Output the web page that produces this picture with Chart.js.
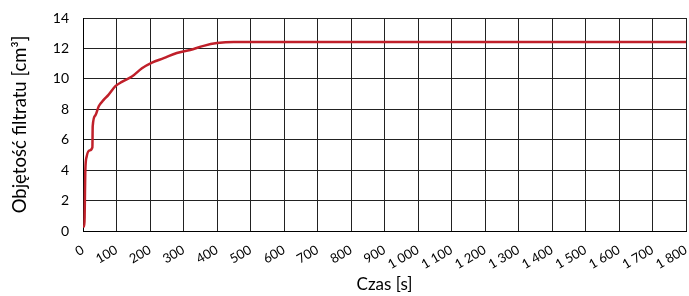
<!DOCTYPE html>
<html>
<head>
<meta charset="utf-8">
<script src="https://cdn.jsdelivr.net/npm/chart.js@4"></script>
<style>
  html, body { margin: 0; padding: 0; background: #fff; }
  #wrap { width: 689px; height: 296px; }
</style>
</head>
<body>
<div id="wrap"><canvas id="myChart" width="689" height="296"></canvas></div>
<script>
// time [s] and filtrate volume [cm3]
var czas = [0, 4, 7, 11, 20, 28, 29, 37, 47, 61, 76, 96, 116, 146, 176, 206, 241, 280, 320, 360, 400, 450, 500, 600, 700, 800, 900, 1000, 1100, 1200, 1300, 1400, 1500, 1600, 1700, 1800];
var objetosc = [0.3, 0.3, 4.0, 4.9, 5.3, 5.5, 6.9, 7.6, 8.2, 8.6, 8.95, 9.5, 9.8, 10.15, 10.7, 11.07, 11.36, 11.7, 11.9, 12.17, 12.35, 12.43, 12.43, 12.43, 12.43, 12.42, 12.42, 12.42, 12.42, 12.42, 12.42, 12.42, 12.42, 12.42, 12.42, 12.42];
var yTicks = [0, 2, 4, 6, 8, 10, 12, 14];

var font = "Lato, 'Liberation Sans', sans-serif";

var points = czas.map(function (t, i) {
    return { x: t, y: objetosc[i] };
});

var ctx = document.getElementById("myChart");
var myChart = new Chart(ctx, {
    type: 'line',
    data: {
        datasets: [{
            data: points,
            borderColor: "#C0202A",
            borderWidth: 2.5,
            pointRadius: 0,
            cubicInterpolationMode: 'monotone',
            fill: false
        }]
    },
    options: {
        responsive: false,
        animation: false,
        layout: { padding: { top: 18, right: 3, left: 3, bottom: 0 } },
        plugins: {
            legend: { display: false },
            tooltip: { enabled: false }
        },
        scales: {
            x: {
                type: 'linear',
                min: 0,
                max: 1800,
                afterFit: function (axis) {
                    axis.height = 65;
                    axis.paddingLeft = 0;
                    axis.paddingRight = 0;
                },
                grid: { color: "#222", lineWidth: 1, drawTicks: false },
                border: { color: "#000", width: 1 },
                ticks: {
                    stepSize: 100,
                    autoSkip: false,
                    minRotation: 30,
                    maxRotation: 30,
                    padding: 11,
                    color: "#000",
                    font: { family: font, size: 13 },
                    callback: function (v) {
                        return String(v).replace(/\B(?=(\d{3})+(?!\d))/g, " ");
                    }
                },
                title: {
                    display: true,
                    text: "Czas [s]",
                    color: "#000",
                    font: { family: font, size: 17 },
                    padding: { top: 2, bottom: 1 }
                }
            },
            y: {
                min: 0,
                max: 14,
                afterFit: function (axis) {
                    axis.width = 80;
                    axis.paddingTop = 0;
                    axis.paddingBottom = 0;
                },
                afterBuildTicks: function (axis) {
                    axis.ticks = yTicks.map(function (v) { return { value: v }; });
                },
                grid: { color: "#222", lineWidth: 1, drawTicks: false },
                border: { color: "#000", width: 1 },
                ticks: {
                    padding: 14,
                    color: "#000",
                    font: { family: font, size: 14 }
                },
                title: {
                    display: true,
                    text: "Objętość filtratu [cm³]",
                    color: "#000",
                    font: { family: font, size: 18.5 },
                    padding: { top: 6, bottom: 2 }
                }
            }
        }
    }
});
</script>
</body>
</html>
